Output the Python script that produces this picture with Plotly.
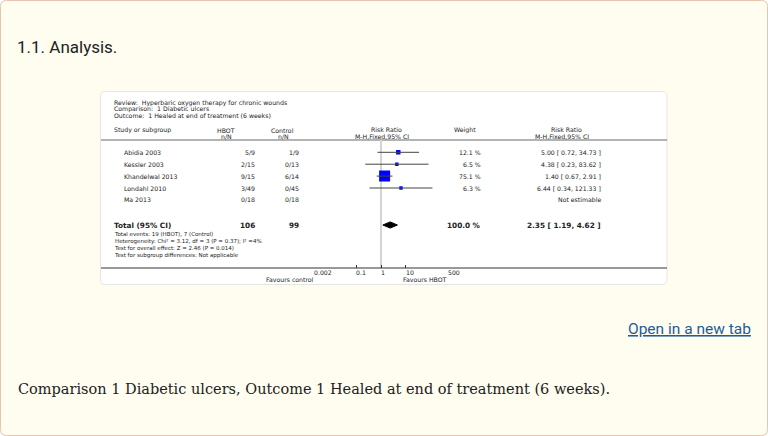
import math
import plotly.graph_objects as go

# ---------------- data ----------------
studies = ["Abidia 2003", "Kessler 2003", "Khandelwal 2013", "Londahl 2010", "Ma 2013"]
hbot_nN = ["5/9", "2/15", "9/15", "3/49", "0/18"]
control_nN = ["1/9", "0/13", "6/14", "0/45", "0/18"]
weights = [12.1, 6.5, 75.1, 6.3, None]
rr = [5.00, 4.38, 1.40, 6.44, None]
ci_low = [0.72, 0.23, 0.67, 0.34, None]
ci_high = [34.73, 83.62, 2.91, 121.33, None]
rr_text = ["5.00 [ 0.72, 34.73 ]", "4.38 [ 0.23, 83.62 ]", "1.40 [ 0.67, 2.91 ]",
           "6.44 [ 0.34, 121.33 ]", "Not estimable"]
weight_text = ["12.1 %", "6.5 %", "75.1 %", "6.3 %", ""]

total_hbot = "106"
total_control = "99"
total_weight = "100.0 %"
total_rr = 2.35
total_lo = 1.19
total_hi = 4.62
total_text = "2.35 [ 1.19, 4.62 ]"

tick_vals = [0.002, 0.1, 1, 10, 500]
tick_labels = ["0.002", "0.1", "1", "10", "500"]

header_lines = ["Review:  Hyperbaric oxygen therapy for chronic wounds",
                "Comparison:  1 Diabetic ulcers",
                "Outcome:  1 Healed at end of treatment (6 weeks)"]
footnotes = ["Total events: 19 (HBOT), 7 (Control)",
             "Heterogeneity: Chi² = 3.12, df = 3 (P = 0.37); I² =4%",
             "Test for overall effect: Z = 2.46 (P = 0.014)",
             "Test for subgroup differences: Not applicable"]

# ---------------- layout helpers ----------------
W, H = 768, 436
def X(px): return px / W
def Y(py): return 1 - py / H

ROW0_PX, ROW_STEP = 152.3, 11.9
AX_TOP_PX, AX_BOT_PX = 140, 268
y_top = (AX_TOP_PX - ROW0_PX) / ROW_STEP
y_bot = (AX_BOT_PX - ROW0_PX) / ROW_STEP
TOTAL_ROW = (225 - ROW0_PX) / ROW_STEP

FF = "DejaVu Sans"
TXT = "#222222"
SMALL = 6.2
FOOT = 5.5
BIG = 7.3

fig = go.Figure()

rows = list(range(len(studies)))

# null line
fig.add_trace(go.Scatter(x=[1, 1], y=[y_top, y_bot], mode="lines",
                         line=dict(color="#d4d4d4", width=2), hoverinfo="skip",
                         showlegend=False, cliponaxis=False))

# boxes
est_idx = [i for i in rows if rr[i] is not None]
wmax = max(w for w in weights if w)
fig.add_trace(go.Scatter(
    x=[rr[i] for i in est_idx], y=[i for i in est_idx], mode="markers",
    marker=dict(symbol="square", color="#0000ff", opacity=1,
                size=[max(3.4, 11 * math.sqrt(weights[i] / wmax)) for i in est_idx],
                line=dict(width=0)),
    showlegend=False, hoverinfo="skip"))

# CI lines
cx, cy = [], []
for i in est_idx:
    cx += [ci_low[i], ci_high[i], None]
    cy += [i, i, None]
fig.add_trace(go.Scatter(x=cx, y=cy, mode="lines", line=dict(color="#444444", width=1),
                         showlegend=False, hoverinfo="skip"))

# diamond
dh = 0.26
fig.add_trace(go.Scatter(
    x=[total_lo, total_rr, total_hi, total_rr, total_lo],
    y=[TOTAL_ROW, TOTAL_ROW - dh, TOTAL_ROW, TOTAL_ROW + dh, TOTAL_ROW],
    mode="lines", fill="toself", fillcolor="#000000", line=dict(color="#000000", width=1),
    showlegend=False, hoverinfo="skip"))

shapes = []
def rrect(x0, y0, x1, y1, r):
    return (f"M {X(x0+r)} {Y(y0)} L {X(x1-r)} {Y(y0)} Q {X(x1)} {Y(y0)} {X(x1)} {Y(y0+r)} "
            f"L {X(x1)} {Y(y1-r)} Q {X(x1)} {Y(y1)} {X(x1-r)} {Y(y1)} "
            f"L {X(x0+r)} {Y(y1)} Q {X(x0)} {Y(y1)} {X(x0)} {Y(y1-r)} "
            f"L {X(x0)} {Y(y0+r)} Q {X(x0)} {Y(y0)} {X(x0+r)} {Y(y0)} Z")

shapes.append(dict(type="path", xref="paper", yref="paper", path=rrect(0.5, 0.5, 767.5, 435.5, 6),
                   fillcolor="#fffdf0", line=dict(color="#e9c5b2", width=1), layer="below"))
shapes.append(dict(type="path", xref="paper", yref="paper", path=rrect(100.5, 91.5, 667, 284.5, 5),
                   fillcolor="#ffffff", line=dict(color="#e6e6e0", width=1), layer="below"))
shapes.append(dict(type="line", xref="paper", yref="paper", x0=X(101), x1=X(667), y0=Y(140), y1=Y(140),
                   line=dict(color="#9a9a9a", width=1.5), layer="below"))
shapes.append(dict(type="line", xref="paper", yref="paper", x0=X(101), x1=X(667), y0=Y(268), y1=Y(268),
                   line=dict(color="#333333", width=1), layer="above"))

ann = []
def A(text, x, y, anchor="left", size=SMALL, bold=False, yref="paper", color=TXT, xref="paper",
      family=FF, align="left", yanchor="middle"):
    if bold:
        text = f"<b>{text}</b>"
    xs = {"left": -1, "right": 1, "center": 0}[anchor]
    ann.append(dict(text=text, x=x, y=y, xref=xref, yref=yref, xanchor=anchor, yanchor=yanchor,
                    xshift=xs, borderpad=0, showarrow=False, align=align,
                    font=dict(family=family, size=size, color=color)))

for k, line in enumerate(header_lines):
    A(line, X(114), Y(103 + 6.4 * k))

A("Study or subgroup", X(114), Y(130))
A("HBOT", X(226), Y(130), "center")
A("n/N", X(226), Y(136), "center")
A("Control", X(282), Y(130), "center")
A("n/N", X(283), Y(136), "center")
A("Risk Ratio", X(386), Y(129.5), "center")
A("M-H,Fixed,95% CI", X(382), Y(136), "center")
A("Weight", X(464.5), Y(130), "center")
A("Risk Ratio", X(566), Y(129.5), "center")
A("M-H,Fixed,95% CI", X(561.5), Y(136), "center")

for i in rows:
    A(studies[i], X(124), i, yref="y")
    A(hbot_nN[i], X(254.5), i, "right", yref="y")
    A(control_nN[i], X(298.5), i, "right", yref="y")
    if weight_text[i]:
        A(weight_text[i], X(480.5), i, "right", yref="y")
    A(rr_text[i], X(600.5), i, "right", yref="y")

A("Total (95% CI)", X(113.5), TOTAL_ROW, size=BIG, bold=True, yref="y")
A(total_hbot, X(254.5), TOTAL_ROW, "right", size=BIG, bold=True, yref="y")
A(total_control, X(298.5), TOTAL_ROW, "right", size=BIG, bold=True, yref="y")
A(total_weight, X(480.5), TOTAL_ROW, "right", size=BIG, bold=True, yref="y")
A(total_text, X(600.5), TOTAL_ROW, "right", size=BIG, bold=True, yref="y")

# footnotes as one block, starting just under the total row
A("<br>".join(footnotes), X(114), Y(230.2), size=FOOT, yanchor="top")

for v, lab in zip(tick_vals, tick_labels):
    A(lab, math.log10(v), Y(272.5), "left", xref="x")
A("Favours control", X(313.5), Y(279), "right")
A("Favours HBOT", X(403), Y(279), "left")

A("1.1. Analysis.", X(17), Y(47), size=17, family="Roboto", color="#222222")
A("<u>Open in a new tab</u>", X(751), Y(329), "right", size=15.5, family="Roboto", color="#1f5c99")
A("Comparison 1 Diabetic ulcers, Outcome 1 Healed at end of treatment (6 weeks).", X(17.5), Y(389),
  size=14.5, family="DejaVu Serif", color="#222222")

fig.update_layout(
    width=W, height=H, margin=dict(l=0, r=0, t=0, b=0),
    paper_bgcolor="#ffffff", plot_bgcolor="rgba(0,0,0,0)",
    shapes=shapes, annotations=ann, showlegend=False,
    xaxis=dict(type="log", domain=[X(314.3), X(447.7)],
               range=[math.log10(tick_vals[0]), math.log10(tick_vals[-1])],
               tickvals=tick_vals, showticklabels=False, ticks="inside", ticklen=3,
               tickcolor="#333333", tickwidth=1, showgrid=False, zeroline=False, showline=False,
               fixedrange=True),
    yaxis=dict(domain=[Y(AX_BOT_PX), Y(AX_TOP_PX)], range=[y_bot, y_top],
               showticklabels=False, showgrid=False, zeroline=False, showline=False, ticks="",
               fixedrange=True),
)

fig.write_html("out.html", config={"displayModeBar": False},
               post_script="document.body.style.margin='0';document.body.style.overflow='hidden';")
